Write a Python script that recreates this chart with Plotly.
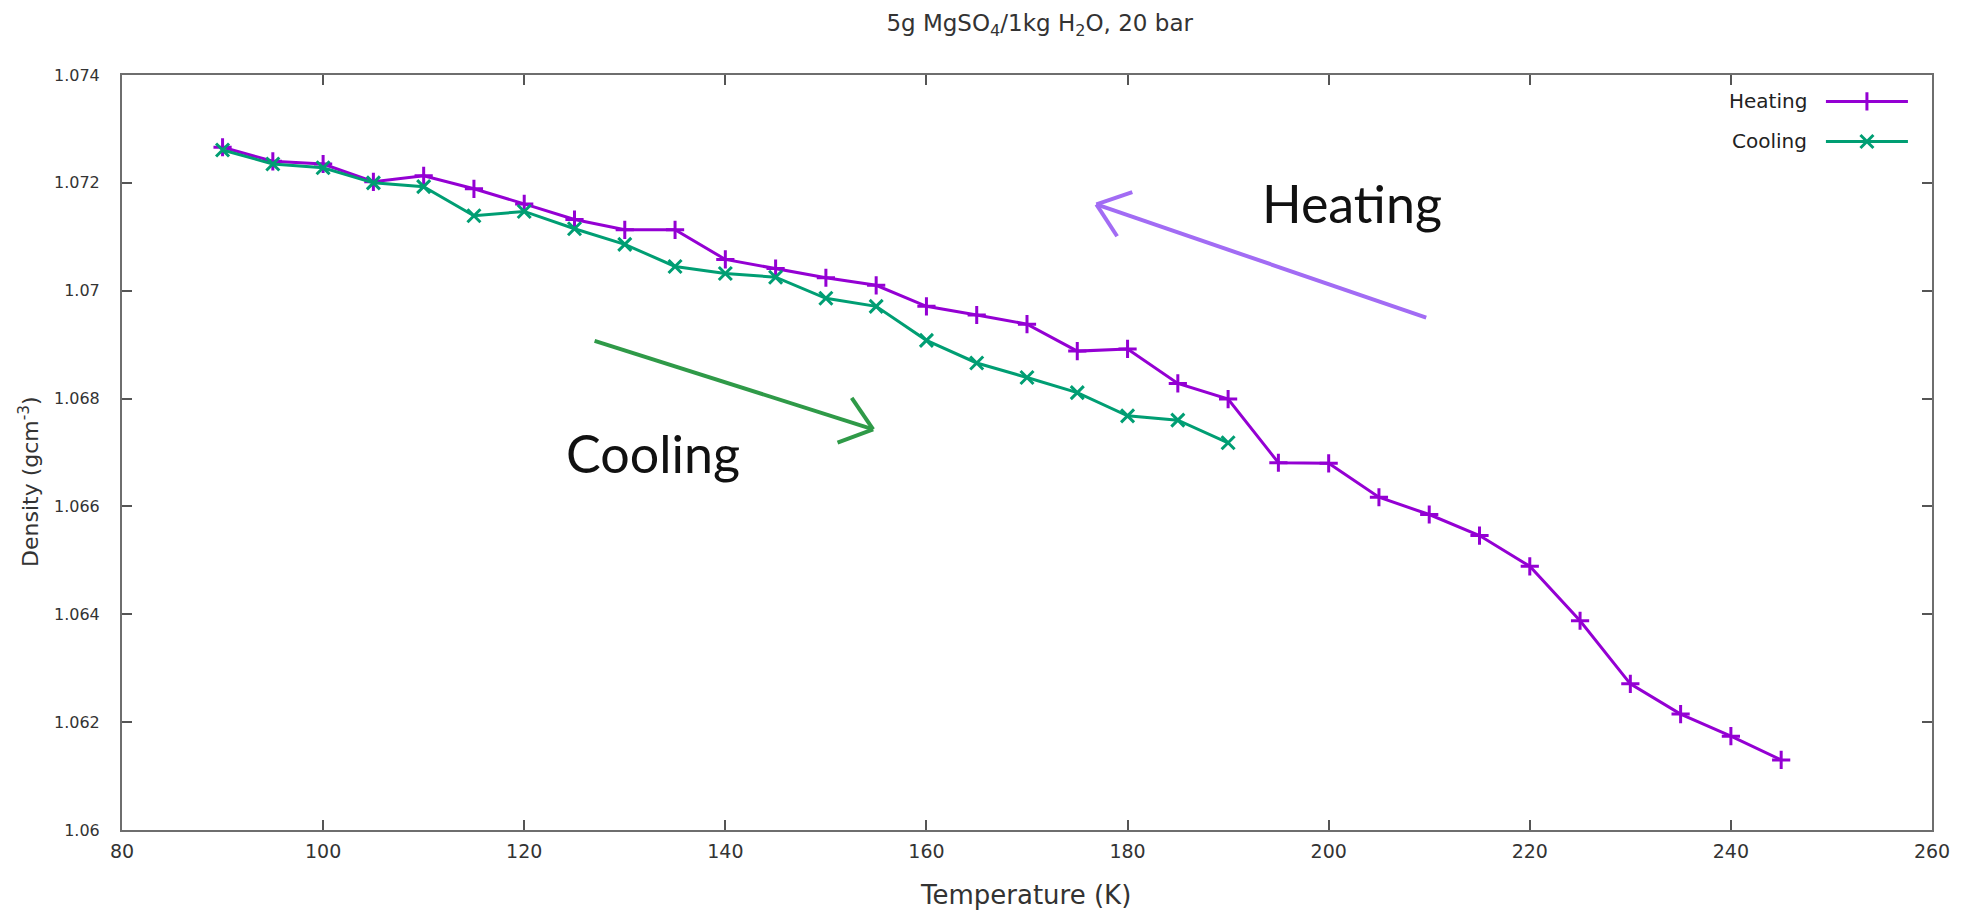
import math
import plotly.graph_objects as go

# ---- data ----
heating_T = [90, 95, 100, 105, 110, 115, 120, 125, 130, 135, 140, 145, 150, 155, 160, 165,
             170, 175, 180, 185, 190, 195, 200, 205, 210, 215, 220, 225, 230, 235, 240, 245]
heating_rho = [1.07266, 1.07240, 1.07235, 1.07202, 1.07213, 1.07189, 1.07161, 1.07132,
               1.07113, 1.07113, 1.07058, 1.07041, 1.07024, 1.07010, 1.06971, 1.06955,
               1.06938, 1.06888, 1.06892, 1.06828, 1.06799, 1.06681, 1.06680, 1.06617,
               1.06585, 1.06546, 1.06489, 1.06388, 1.06271, 1.06215, 1.06174, 1.06130]

cooling_T = [90, 95, 100, 105, 110, 115, 120, 125, 130, 135, 140, 145, 150, 155, 160, 165,
             170, 175, 180, 185, 190]
cooling_rho = [1.07261, 1.07235, 1.07228, 1.07200, 1.07193, 1.07139, 1.07147, 1.07115,
               1.07086, 1.07045, 1.07032, 1.07025, 1.06986, 1.06971, 1.06908, 1.06866,
               1.06839, 1.06811, 1.06768, 1.06760, 1.06718]

x_ticks = [80, 100, 120, 140, 160, 180, 200, 220, 240, 260]
y_ticks = [1.06, 1.062, 1.064, 1.066, 1.068, 1.07, 1.072, 1.074]
y_ticktext = ["1.06", "1.062", "1.064", "1.066", "1.068", "1.07", "1.072", "1.074"]

series_names = ["Heating", "Cooling"]
series_colors = ["#9400d3", "#009e73"]
series_symbols = ["cross-thin", "x-thin"]

# annotation arrows (data coordinates: tail -> tip)
heat_arrow = {"tail": (209.7, 1.06950), "tip": (176.9, 1.07160), "color": "#a26cf4"}
cool_arrow = {"tail": (127.0, 1.06907), "tip": (154.7, 1.06743), "color": "#2f9a48"}
heat_label = {"text": "Heating", "pos": (202.3, 1.07163)}
cool_label = {"text": "Cooling", "pos": (132.8, 1.06699)}

# ---- layout geometry (page adds an 8px body margin) ----
W, H = 1960, 903
ML, MR, MT, MB = 114, 36, 67, 81
X_RANGE = [80, 260]
Y_RANGE = [1.06, 1.074]
plot_w = W - ML - MR
plot_h = H - MT - MB
px_x = plot_w / (X_RANGE[1] - X_RANGE[0])
px_y = plot_h / (Y_RANGE[1] - Y_RANGE[0])

FONT = "DejaVu Sans, Verdana, sans-serif"
TXT = "#333333"
fig = go.Figure()

for name, xs, ys, col, sym in [
    (series_names[0], heating_T, heating_rho, series_colors[0], series_symbols[0]),
    (series_names[1], cooling_T, cooling_rho, series_colors[1], series_symbols[1]),
]:
    fig.add_trace(go.Scatter(
        x=xs, y=ys, mode="lines+markers", name=name, showlegend=False,
        line=dict(color=col, width=3),
        marker=dict(symbol=sym, size=13, color=col, line=dict(color=col, width=3)),
    ))

# custom legend (text left of sample, gnuplot style) on hidden overlay axes
leg_x0, leg_x1 = 0.9414, 0.9867
leg_rows = [0.965, 0.912]
for i, name in enumerate(series_names):
    yy = leg_rows[i]
    fig.add_trace(go.Scatter(
        x=[leg_x0, leg_x1], y=[yy, yy], mode="lines", xaxis="x2", yaxis="y2",
        showlegend=False, hoverinfo="skip",
        line=dict(color=series_colors[i], width=3)))
    fig.add_trace(go.Scatter(
        x=[(leg_x0 + leg_x1) / 2], y=[yy], mode="markers", xaxis="x2", yaxis="y2",
        showlegend=False, hoverinfo="skip",
        marker=dict(symbol=series_symbols[i], size=13, color=series_colors[i],
                    line=dict(color=series_colors[i], width=3))))
    fig.add_annotation(x=0.932, y=yy, xref="x2", yref="y2", text=name, showarrow=False,
                       xanchor="right", yanchor="middle",
                       font=dict(family=FONT, size=20, color="#222"))

# hand-drawn style arrows
shapes = []
for arr in (heat_arrow, cool_arrow):
    (tx, ty), (hx, hy) = arr["tail"], arr["tip"]
    shapes.append(dict(type="line", xref="x", yref="y", x0=tx, y0=ty, x1=hx, y1=hy,
                       line=dict(color=arr["color"], width=4)))
    dx = (tx - hx) * px_x
    dy = (ty - hy) * px_y
    L = math.hypot(dx, dy)
    ux, uy = dx / L, dy / L
    for ang in (math.radians(38), -math.radians(38)):
        rx = ux * math.cos(ang) - uy * math.sin(ang)
        ry = ux * math.sin(ang) + uy * math.cos(ang)
        shapes.append(dict(type="line", xref="x", yref="y", x0=hx, y0=hy,
                           x1=hx + rx * 38 / px_x, y1=hy + ry * 38 / px_y,
                           line=dict(color=arr["color"], width=4)))

for lab in (heat_label, cool_label):
    fig.add_annotation(x=lab["pos"][0], y=lab["pos"][1], xref="x", yref="y",
                       text=lab["text"], showarrow=False, xanchor="center", yanchor="middle",
                       font=dict(family="Lato, Open Sans, sans-serif", size=52, color="#111"))

# axis titles as annotations for exact placement
fig.add_annotation(x=0.499, y=-0.0861, xref="paper", yref="paper",
                   text="Temperature (K)", showarrow=False,
                   xanchor="center", yanchor="middle",
                   font=dict(family=FONT, size=26, color=TXT))
fig.add_annotation(x=-0.0515, y=0.462, xref="paper", yref="paper",
                   text="Density (gcm<sup>-3</sup>)", showarrow=False, textangle=-90,
                   xanchor="center", yanchor="middle",
                   font=dict(family=FONT, size=22, color=TXT))

axis_common = dict(showline=True, linecolor="#6e6e6e", linewidth=2, mirror="ticks",
                   ticks="inside", ticklen=10, tickcolor="#555", tickwidth=1.5,
                   showgrid=False, zeroline=False)

fig.update_layout(
    width=W, height=H,
    margin=dict(l=ML, r=MR, t=MT, b=MB),
    paper_bgcolor="white", plot_bgcolor="white",
    title=dict(text="5g MgSO<sub>4</sub>/1kg H<sub>2</sub>O, 20 bar",
               xref="paper", x=0.507, xanchor="center",
               y=1 - 15 / H, yanchor="middle", font=dict(family=FONT, size=23, color=TXT)),
    xaxis=dict(range=X_RANGE, tickvals=x_ticks, ticktext=[str(v) for v in x_ticks],
               ticklabelstandoff=3, tickfont=dict(family=FONT, size=19, color=TXT),
               **axis_common),
    yaxis=dict(range=Y_RANGE, tickvals=y_ticks, ticktext=y_ticktext,
               ticklabelstandoff=17, tickfont=dict(family=FONT, size=16, color=TXT),
               **axis_common),
    xaxis2=dict(overlaying="x", range=[0, 1], visible=False, fixedrange=True),
    yaxis2=dict(overlaying="y", range=[0, 1], visible=False, fixedrange=True),
    shapes=shapes,
    showlegend=False,
)

fig.write_html("out.html")
